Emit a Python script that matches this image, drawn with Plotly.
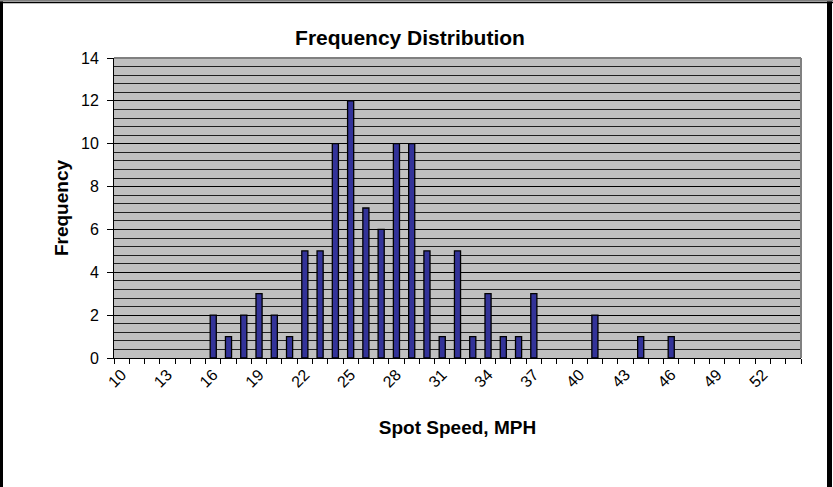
import plotly.graph_objects as go

speeds = list(range(10, 55))
freq_map = {16: 2, 17: 1, 18: 2, 19: 3, 20: 2, 21: 1, 22: 5, 23: 5, 24: 10, 25: 12,
            26: 7, 27: 6, 28: 10, 29: 10, 30: 5, 31: 1, 32: 5, 33: 1, 34: 3, 35: 1,
            36: 1, 37: 3, 41: 2, 44: 1, 46: 1}
frequency = [freq_map.get(s, 0) for s in speeds]
x_tick_vals = list(range(10, 53, 3))
x_tick_text = [str(v) for v in x_tick_vals]
y_tick_vals = list(range(0, 15, 2))

W, H = 833, 487
L, R, T, B = 114, 32, 58, 129
pw, ph = W - L - R, H - T - B

def px(x):
    return (x - L) / pw

def py(y):
    return (H - B - y) / ph

font = "Liberation Sans, Arial, sans-serif"

fig = go.Figure()
fig.add_trace(go.Bar(
    x=speeds, y=[f if f else None for f in frequency], width=0.4,
    marker=dict(color="#333399", line=dict(color="black", width=1.3)),
))

fig.update_layout(
    width=W, height=H,
    margin=dict(l=L, r=R, t=T, b=B, autoexpand=False),
    paper_bgcolor="white", plot_bgcolor="#C0C0C0",
    showlegend=False,
    font=dict(family=font, color="black", size=16),
    title=dict(text="<b>Frequency Distribution</b>", x=410 / W, xanchor="center",
               y=1 - 38 / H, yanchor="middle", font=dict(size=21, family=font)),
)
fig.update_xaxes(
    type="linear", range=[9.5, 54.5], automargin=False,
    tickmode="array", tickvals=x_tick_vals, ticktext=x_tick_text,
    tickangle=-45, ticks="", showgrid=False, zeroline=False,
    showline=True, linecolor="black", linewidth=1,
    minor=dict(ticks="outside", tick0=9.5, dtick=1, ticklen=5, tickcolor="black", showgrid=False),
    tickfont=dict(size=16), ticklabelstandoff=0,
    title=dict(text="<b>Spot Speed, MPH</b>", font=dict(size=19), standoff=31),
)
fig.update_yaxes(
    range=[0, 14], tickmode="array", tickvals=y_tick_vals, automargin=False,
    ticks="outside", ticklen=6, tickcolor="black",
    showgrid=True, gridcolor="black", gridwidth=1, zeroline=False,
    showline=True, linecolor="black", linewidth=1,
    minor=dict(dtick=0.4, tick0=0, showgrid=True, gridcolor="#202020", gridwidth=1),
    tickfont=dict(size=16), ticklabelstandoff=5,
    title=dict(text="<b>Frequency</b>", font=dict(size=19), standoff=7),
)

# plot area border (gray) on top and right
fig.add_shape(type="line", xref="paper", yref="paper", x0=0, x1=1, y0=1, y1=1,
              line=dict(color="#808080", width=2))
fig.add_shape(type="line", xref="paper", yref="paper", x0=1, x1=1, y0=0, y1=1,
              line=dict(color="#808080", width=2))
# outer chart frame
fig.add_shape(type="line", xref="paper", yref="paper",
              x0=px(1.5), x1=px(1.5), y0=py(500), y1=py(1),
              line=dict(color="black", width=3), layer="above")
fig.add_shape(type="line", xref="paper", yref="paper",
              x0=px(829.5), x1=px(829.5), y0=py(500), y1=py(1),
              line=dict(color="black", width=5), layer="above")
fig.add_shape(type="line", xref="paper", yref="paper",
              x0=px(0), x1=px(833), y0=py(2.5), y1=py(2.5),
              line=dict(color="black", width=1.5), layer="above")
fig.add_shape(type="line", xref="paper", yref="paper",
              x0=px(0), x1=px(833), y0=py(0.8), y1=py(0.8),
              line=dict(color="#808080", width=1.6), layer="above")

fig.write_html("out.html", config={"displayModeBar": False},
               post_script="document.body.style.margin='0';document.body.style.padding='0';document.body.style.overflow='hidden';")
